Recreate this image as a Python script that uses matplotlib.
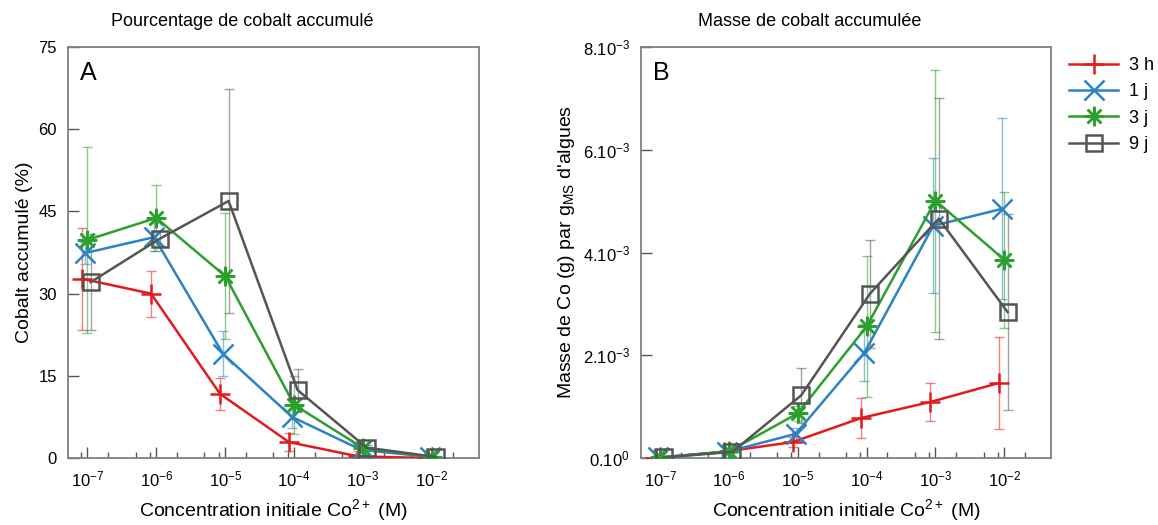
import matplotlib
matplotlib.use("Agg")
from matplotlib import pyplot as plt
from matplotlib.ticker import FixedLocator, FuncFormatter
import numpy as np

plt.rcParams['font.family'] = ['Liberation Sans', 'DejaVu Sans']
plt.rcParams['mathtext.fontset'] = 'custom'
plt.rcParams['mathtext.rm'] = 'Liberation Sans'
plt.rcParams['mathtext.it'] = 'Liberation Sans:italic'
plt.rcParams['mathtext.default'] = 'regular'

# concentrations (M)
conc = [1e-7, 1e-6, 1e-5, 1e-4, 1e-3, 1e-2]
series = ["3 h", "1 j", "3 j", "9 j"]

# panel A : cobalt accumule (%)
pct_3h = [32.7, 30.0, 11.7, 2.9, 0.3, 0.0]
pct_3h_err = [9.3, 4.2, 2.9, 1.6, 1.0, 0.0]
pct_1j = [37.4, 40.3, 19.0, 7.5, 1.5, 0.2]
pct_1j_err = [2.0, 2.5, 4.1, 2.0, 0.5, 0.1]
pct_3j = [39.8, 43.8, 33.2, 9.7, 1.8, 0.2]
pct_3j_err = [16.9, 6.0, 11.5, 5.3, 0.5, 0.1]
pct_9j = [32.1, 40.0, 46.9, 12.4, 1.9, 0.2]
pct_9j_err = [8.8, 1.5, 20.4, 3.8, 0.5, 0.1]

# panel B : masse de Co (g) par g MS
mas_3h = [0.0, 0.12e-3, 0.31e-3, 0.78e-3, 1.09e-3, 1.46e-3]
mas_3h_err = [0.0, 0.02e-3, 0.10e-3, 0.39e-3, 0.37e-3, 0.90e-3]
mas_1j = [0.01e-3, 0.12e-3, 0.47e-3, 2.05e-3, 4.52e-3, 4.85e-3]
mas_1j_err = [0.0, 0.03e-3, 0.12e-3, 0.55e-3, 1.31e-3, 1.76e-3]
mas_3j = [0.01e-3, 0.13e-3, 0.87e-3, 2.56e-3, 5.01e-3, 3.86e-3]
mas_3j_err = [0.0, 0.03e-3, 0.15e-3, 1.38e-3, 2.55e-3, 1.32e-3]
mas_9j = [0.01e-3, 0.12e-3, 1.22e-3, 3.20e-3, 4.66e-3, 2.84e-3]
mas_9j_err = [0.0, 0.03e-3, 0.53e-3, 1.05e-3, 2.35e-3, 1.90e-3]

colors = ['#e41a1c', '#2b83c6', '#2ca02c', '#555555']
markers = ['+', 'x', (8, 2, 0), 's']
shift = [0.84, 0.93, 1.0, 1.12]

fig = plt.figure(figsize=(11.58, 5.25), dpi=100)
axA = fig.add_axes([68/1158, 67/525, 411/1158, 411/525])
axB = fig.add_axes([641/1158, 67/525, 410/1158, 411/525])

dataA = [(pct_3h, pct_3h_err), (pct_1j, pct_1j_err), (pct_3j, pct_3j_err), (pct_9j, pct_9j_err)]
dataB = [(mas_3h, mas_3h_err), (mas_1j, mas_1j_err), (mas_3j, mas_3j_err), (mas_9j, mas_9j_err)]

for ax, data in [(axA, dataA), (axB, dataB)]:
    for i, (vals, errs) in enumerate(data):
        x = np.array(conc) * shift[i]
        ax.errorbar(x, vals, yerr=errs, fmt='none', ecolor=colors[i], alpha=0.55,
                    elinewidth=1.0, capsize=3.5, capthick=1.0, zorder=2)
        mfc = 'none' if markers[i] == 's' else colors[i]
        ax.plot(x, vals, color=colors[i], marker=markers[i], markersize=14 if i < 3 else 11,
                markeredgewidth=1.8, markerfacecolor=mfc, linewidth=1.8, label=series[i], zorder=3)

    ax.set_xscale('log')
    ax.set_xlim(10**-7.28, 10**-1.32)
    ax.xaxis.set_major_locator(FixedLocator(conc))
    minors = [m * d for d in [1e-8, 1e-7, 1e-6, 1e-5, 1e-4, 1e-3, 1e-2] for m in [2, 5, 8]]
    ax.xaxis.set_minor_locator(FixedLocator(minors))
    ax.xaxis.set_major_formatter(FuncFormatter(lambda v, p: r'10$^{%d}$' % round(np.log10(v))))
    ax.xaxis.set_minor_formatter(FuncFormatter(lambda v, p: ''))
    ax.tick_params(axis='both', which='major', direction='in', length=8, width=1, color='#555555',
                   labelsize=12, pad=8)
    ax.tick_params(axis='x', which='minor', direction='in', length=4, width=1, color='#555555')
    for s in ax.spines.values():
        s.set_color('#808080')
        s.set_linewidth(1.3)
    ax.set_xlabel(r'Concentration initiale Co$^{2+}$ (M)', fontsize=14, labelpad=6)

axA.set_ylim(0, 75)
axA.set_yticks([0, 15, 30, 45, 60, 75])
axA.set_ylabel('Cobalt accumulé (%)', fontsize=14)
axA.set_title('Pourcentage de cobalt accumulé', fontsize=13, pad=15, x=0.423)
axA.text(0.03, 0.92, 'A', transform=axA.transAxes, fontsize=18)

axB.set_ylim(0, 8e-3)
btick = [0, 2e-3, 4e-3, 6e-3, 8e-3]
btlab = [r'0.10$^{0}$', r'2.10$^{-3}$', r'4.10$^{-3}$', r'6.10$^{-3}$', r'8.10$^{-3}$']
axB.set_yticks(btick)
axB.set_yticklabels(btlab)
axB.set_ylabel(r"Masse de Co (g) par g$_{MS}$ d'algues", fontsize=14)
axB.set_title('Masse de cobalt accumulée', fontsize=13, pad=15, x=0.412)
axB.text(0.03, 0.92, 'B', transform=axB.transAxes, fontsize=18)

axB.legend(loc='upper left', bbox_to_anchor=(1.045, 0.976), frameon=False, fontsize=13,
           handlelength=2.7, handletextpad=0.6, labelspacing=0.52, borderaxespad=0, borderpad=0)

fig.savefig('out.png', dpi=100)
